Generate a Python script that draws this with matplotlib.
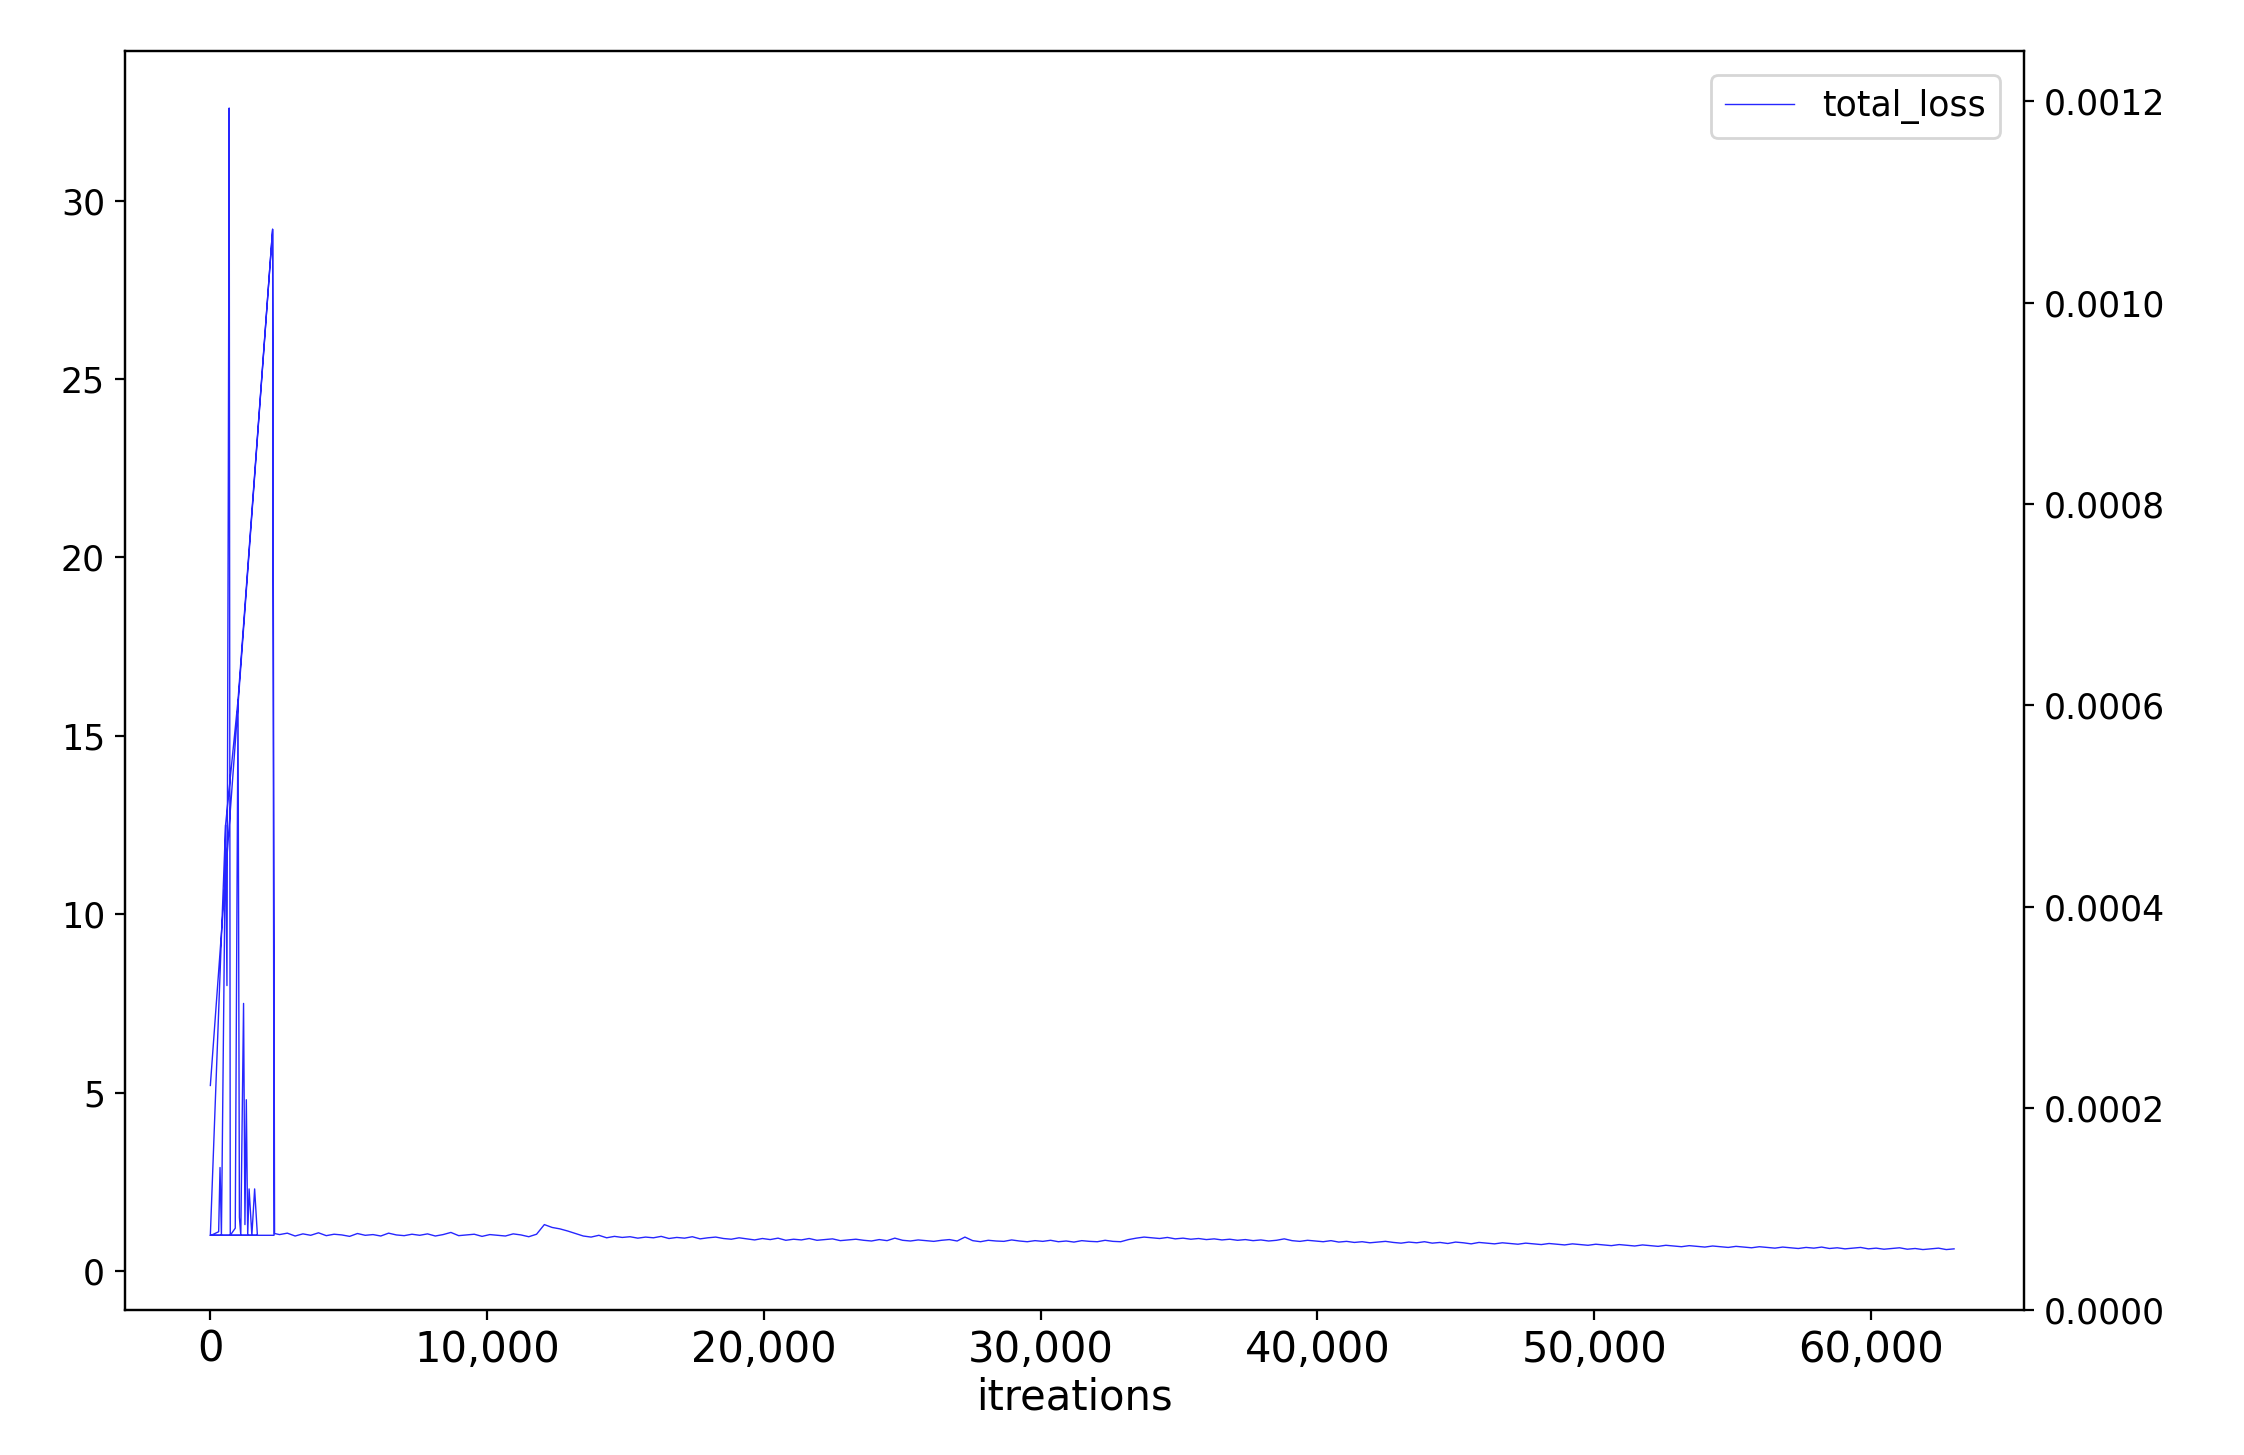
import matplotlib
matplotlib.use("Agg")
import matplotlib.pyplot as plt
from matplotlib.ticker import FuncFormatter, FormatStrFormatter

# early (unstable) phase: iteration, loss (in logged order)
early_x = [0, 2250, 2300, 0, 30, 300, 350, 400, 480, 550, 600, 650, 680, 720, 900, 1000, 1050, 1100,
           1200, 1250, 1300, 1350, 1400, 1500, 1600, 1700, 0, 550, 1000, 2250, 2320]
early_y = [5.2, 29.2, 1.0, 1.0, 1.0, 1.1, 2.9, 1.0, 7.0, 12.5, 8.0, 22.4, 32.6, 1.0, 1.2, 16.0, 1.5, 1.0,
           7.5, 1.3, 4.8, 1.0, 2.3, 1.0, 2.3, 1.0, 1.0, 12.5, 16.0, 29.2, 1.05]

# later phase, evenly spaced from 2,500 to 63,000 iterations
tail_first, tail_last = 2500, 63000
tail_y = [
1.02,1.06,0.98,1.04,1.00,1.07,0.99,1.03,1.01,0.97,1.05,1.00,1.02,0.98,1.06,1.01,
0.99,1.03,1.00,1.04,0.98,1.02,1.08,0.99,1.01,1.03,0.97,1.02,1.00,0.98,1.04,1.01,
0.96,1.03,1.30,1.22,
1.18,1.12,1.05,0.98,0.95,1.00,0.93,0.97,0.94,0.96,0.92,0.95,0.93,0.97,0.91,0.94,
0.92,0.96,0.90,0.93,0.95,0.91,0.89,0.93,0.90,0.87,0.91,0.88,0.92,0.86,0.89,0.87,
0.91,0.86,0.88,0.90,0.85,0.87,0.89,0.86,0.84,0.88,0.85,0.92,0.86,0.84,0.87,0.85,
0.83,0.86,0.88,0.84,0.95,0.85,0.82,0.86,0.84,0.83,0.87,0.84,0.82,0.85,0.83,0.86,
0.82,0.84,0.81,0.85,0.83,0.82,0.86,0.83,0.82,0.88,0.92,0.95,0.93,0.91,0.94,0.90,
0.92,0.89,0.91,0.88,0.90,0.87,0.89,0.86,0.88,0.85,0.87,0.84,0.86,0.90,0.85,0.83,
0.86,0.84,0.82,0.85,0.81,0.83,0.80,0.82,0.79,0.81,0.83,0.80,0.78,0.81,0.79,0.82,
0.78,0.80,0.77,0.81,0.79,0.76,0.80,0.78,0.76,0.79,0.77,0.75,0.78,0.76,0.74,0.77,
0.75,0.73,0.76,0.74,0.72,0.75,0.73,0.71,0.74,0.72,0.70,0.73,0.71,0.69,0.72,0.70,
0.68,0.71,0.69,0.67,0.70,0.68,0.66,0.69,0.67,0.65,0.68,0.66,0.64,0.67,0.65,0.63,
0.66,0.64,0.67,0.63,0.65,0.62,0.64,0.66,0.62,0.64,0.61,0.63,0.65,0.61,0.63,0.60,
0.62,0.64,0.60,0.62]
n = len(tail_y)
tail_x = [tail_first + (tail_last - tail_first) * i / (n - 1) for i in range(n)]

x = early_x + tail_x
y = early_y + tail_y

fig = plt.figure(figsize=(11.22, 7.275), dpi=200)
ax = fig.add_axes([0.0555, 0.10, 0.8465, 0.865])
ax.plot(x, y, color="blue", lw=0.5, alpha=0.85, label="total_loss")
ax.set_xlim(-3100, 65530)
ax.set_ylim(-1.08, 34.2)
ax.set_yticks([0, 5, 10, 15, 20, 25, 30])
ax.xaxis.set_major_formatter(FuncFormatter(lambda v, p: f"{int(v):,}"))
ax.tick_params(axis="x", labelsize=15)
ax.tick_params(axis="y", labelsize=12.5)
ax.set_xlabel("itreations", fontsize=15, labelpad=2)
ax.legend(loc="upper right", fontsize=12.5, borderaxespad=0.7)
ax2 = ax.twinx()
ax2.set_ylim(0, 0.00125)
ax2.set_yticks([0, 0.0002, 0.0004, 0.0006, 0.0008, 0.0010, 0.0012])
ax2.yaxis.set_major_formatter(FormatStrFormatter("%.4f"))
ax2.tick_params(axis="y", labelsize=12.5)
fig.savefig("out.png", dpi=200)
